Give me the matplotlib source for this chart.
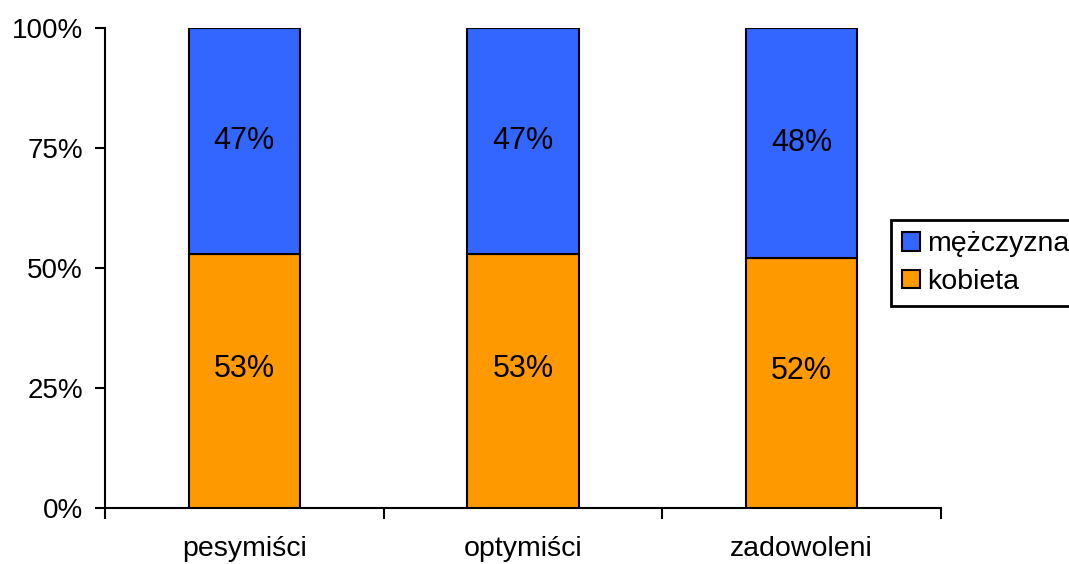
import matplotlib
matplotlib.use("Agg")
import matplotlib.pyplot as plt
from matplotlib.ticker import FixedLocator

plt.rcParams['font.family'] = ['Liberation Sans', 'DejaVu Sans']

categories = ["pesymiści", "optymiści", "zadowoleni"]
kobieta = [53, 53, 52]
mezczyzna = [47, 47, 48]
series_names = ["mężczyzna", "kobieta"]
yticklabels = ["0%", "25%", "50%", "75%", "100%"]

fig = plt.figure(figsize=(10.69, 5.64), dpi=100)
ax = fig.add_axes([105/1069, 1-508/564, (941-105)/1069, 480/564])

x = range(len(categories))
w = 0.4
b1 = ax.bar(x, kobieta, w, color="#FF9900", edgecolor="black", linewidth=1.5, label=series_names[1], zorder=3)
b2 = ax.bar(x, mezczyzna, w, bottom=kobieta, color="#3366FF", edgecolor="black", linewidth=1.5, label=series_names[0], zorder=3)

for i in x:
    ax.text(i, kobieta[i] / 2 + 2.5, f"{kobieta[i]}%", ha="center", va="center", fontsize=22)
    ax.text(i, kobieta[i] + mezczyzna[i] / 2, f"{mezczyzna[i]}%", ha="center", va="center", fontsize=22)

ax.set_xlim(-0.5, 2.5)
ax.set_ylim(0, 100)
ax.set_yticks([0, 25, 50, 75, 100])
ax.set_yticklabels(yticklabels, fontsize=20)
ax.set_xticks(list(x))
ax.set_xticklabels(categories, fontsize=20.5)
ax.tick_params(axis="x", length=0, pad=20)
ax.xaxis.set_minor_locator(FixedLocator([-0.5, 0.5, 1.5, 2.5]))
ax.tick_params(axis="x", which="minor", length=8, width=1.5, direction="out")
ax.tick_params(axis="y", length=7, width=1.5, direction="out", pad=9)
for s in ["top", "right"]:
    ax.spines[s].set_visible(False)
for s in ["left", "bottom"]:
    ax.spines[s].set_linewidth(1.5)

handles = [b2, b1]
leg = fig.legend(handles, series_names, loc="upper left", bbox_to_anchor=(891/1069, 1-220/564),
                 frameon=True, fancybox=False, edgecolor="black", framealpha=1, fontsize=20.5,
                 handlelength=0.62, handleheight=0.62, handletextpad=0.25, borderpad=0.4,
                 labelspacing=0.4, borderaxespad=0)
leg.get_frame().set_linewidth(2)

fig.savefig("out.png", dpi=100)
